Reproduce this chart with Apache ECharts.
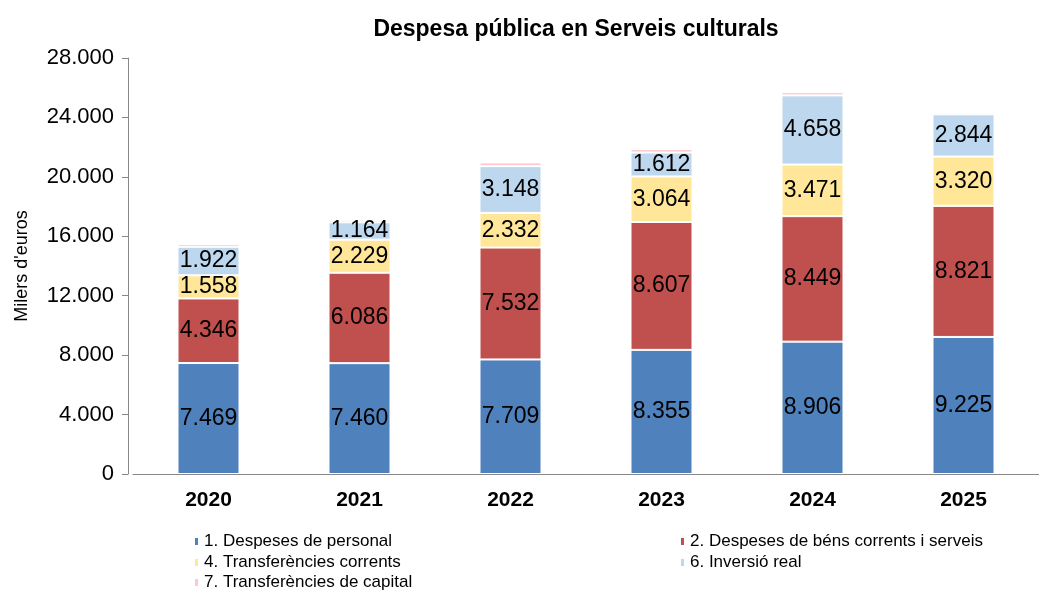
<!DOCTYPE html>
<html>
<head>
<meta charset="utf-8">
<script src="https://cdn.jsdelivr.net/npm/echarts@6/dist/echarts.min.js"></script>
<style>
  html, body { margin: 0; padding: 0; background: #fff; }
  #chart { width: 1039px; height: 590px; }
</style>
</head>
<body>
<div id="chart"></div>
<script>
// anys
const anys = ["2020", "2021", "2022", "2023", "2024", "2025"];
// series (milers d'euros)
const personal = [7469, 7460, 7709, 8355, 8906, 9225];
const bensCorrents = [4346, 6086, 7532, 8607, 8449, 8821];
const transfCorrents = [1558, 2229, 2332, 3064, 3471, 3320];
const inversioReal = [1922, 1164, 3148, 1612, 4658, 2844];
const transfCapital = [190, 150, 250, 230, 220, 120];
// noms
const noms = [
  "1. Despeses de personal",
  "2. Despeses de béns corrents i serveis",
  "4. Transferències corrents",
  "6. Inversió real",
  "7. Transferències de capital"
];
const colors = ["#4F81BD", "#C0504D", "#FFE699", "#BDD7EE", "#FFC7CE"];

const fmt = (v) => String(v).replace(/\B(?=(\d{3})+(?!\d))/g, ".");
const font = "Liberation Sans, Arial, sans-serif";

function serie(i, data, label) {
  return {
    name: noms[i],
    type: "bar",
    stack: "total",
    barWidth: 62,
    data: data,
    itemStyle: { color: colors[i], borderColor: "#fff", borderWidth: 1 },
    label: {
      show: label,
      position: "inside",
      color: "#000",
      fontSize: 23,
      fontFamily: font,
      formatter: (p) => fmt(p.value)
    },
    emphasis: { disabled: true }
  };
}

function llegenda(items, left, top) {
  return {
    data: items,
    orient: "vertical",
    left: left,
    top: top,
    itemWidth: 5,
    itemHeight: 9,
    itemGap: 4,
    icon: "rect",
    textStyle: { fontSize: 17, color: "#000", fontFamily: font }
  };
}

const chart = echarts.init(document.getElementById("chart"));
chart.setOption({
  animation: false,
  title: {
    text: "Despesa pública en Serveis culturals",
    left: 571,
    textAlign: "center",
    top: 13,
    textStyle: { fontSize: 23, fontWeight: "bold", color: "#000", fontFamily: font }
  },
  legend: [
    llegenda([noms[0], noms[2]], 188, 528),
    llegenda([noms[4]], 188, 569),
    llegenda([noms[1], noms[3]], 674, 528)
  ],
  grid: { left: 133, right: -6, top: 58, bottom: 116 },
  xAxis: {
    type: "category",
    data: anys,
    axisLine: { lineStyle: { color: "#888" } },
    axisTick: { show: false },
    axisLabel: { fontSize: 21, fontWeight: "bold", color: "#000", fontFamily: font, margin: 16 }
  },
  yAxis: {
    type: "value",
    min: 0,
    max: 28000,
    interval: 4000,
    offset: 5,
    name: "Milers d'euros",
    nameLocation: "middle",
    nameRotate: 90,
    nameGap: 97,
    nameTextStyle: { fontSize: 18, color: "#000", fontFamily: font },
    axisLine: { show: true, lineStyle: { color: "#888" } },
    axisTick: { show: true, length: 6, lineStyle: { color: "#888" } },
    splitLine: { show: false },
    axisLabel: {
      fontSize: 22,
      color: "#000",
      fontFamily: font,
      margin: 14,
      formatter: (v) => fmt(v)
    }
  },
  series: [
    serie(0, personal, true),
    serie(1, bensCorrents, true),
    serie(2, transfCorrents, true),
    serie(3, inversioReal, true),
    serie(4, transfCapital, false)
  ]
});
</script>
</body>
</html>
